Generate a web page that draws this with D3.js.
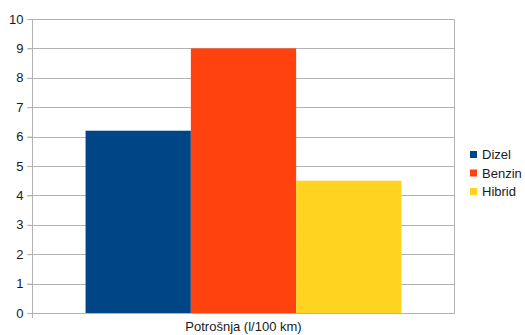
<!DOCTYPE html>
<html>
<head>
<meta charset="utf-8">
<script src="https://cdn.jsdelivr.net/npm/d3@7"></script>
<style>
  html, body { margin: 0; padding: 0; background: #fff; }
  svg { display: block; font-family: "Liberation Sans", Arial, sans-serif; }
</style>
</head>
<body>
<svg id="chart" width="525" height="335"></svg>
<script>
// Fuel consumption by engine type
const category = "Potrošnja (l/100 km)";
const seriesNames = ["Dizel", "Benzin", "Hibrid"];
const seriesValues = [6.2, 9.0, 4.5];
const seriesColors = ["#004586", "#ff420e", "#ffd320"];
const yTicks = [0, 1, 2, 3, 4, 5, 6, 7, 8, 9, 10];

const svg = d3.select("#chart");
const plot = { left: 32.5, right: 454.5, top: 19, bottom: 313 };

const y = d3.scaleLinear().domain([0, 10]).range([plot.bottom, plot.top]);
const x0 = d3.scaleBand().domain([category]).range([plot.left, plot.right]).paddingInner(0).paddingOuter(0.168);
const x1 = d3.scaleBand().domain(seriesNames).range([0, x0.bandwidth()]).padding(0);

// gridlines
svg.append("g")
  .selectAll("line")
  .data(yTicks)
  .join("line")
  .attr("x1", plot.left - 5)
  .attr("x2", plot.right)
  .attr("y1", d => Math.round(y(d)) + 0.5)
  .attr("y2", d => Math.round(y(d)) + 0.5)
  .attr("stroke", "#b3b3b3")
  .attr("stroke-width", 1);

// right border of plot area
svg.append("line")
  .attr("x1", plot.right).attr("x2", plot.right)
  .attr("y1", Math.round(y(10)) + 0.5).attr("y2", plot.bottom)
  .attr("stroke", "#b3b3b3");

// bars
const group = svg.append("g").attr("transform", `translate(${x0(category)},0)`);
group.selectAll("rect")
  .data(seriesValues)
  .join("rect")
  .attr("x", (d, i) => x1(seriesNames[i]))
  .attr("width", x1.bandwidth())
  .attr("y", d => y(d))
  .attr("height", d => plot.bottom - y(d))
  .attr("fill", (d, i) => seriesColors[i]);

// y axis
const yAxis = d3.axisLeft(y).tickValues(yTicks).tickSize(5).tickPadding(4);
const gy = svg.append("g")
  .attr("transform", `translate(${plot.left},0)`)
  .call(yAxis);
gy.select(".domain").attr("stroke", "#b3b3b3").attr("d", `M0,${plot.top}V${plot.bottom + 5}`);
gy.selectAll(".tick line").attr("stroke", "#b3b3b3");
gy.selectAll(".tick text")
  .attr("fill", "#1a1a1a")
  .attr("font-size", 13)
  .attr("font-family", "Liberation Sans, Arial, sans-serif");

// baseline
svg.append("line")
  .attr("x1", plot.left).attr("x2", plot.right)
  .attr("y1", plot.bottom + 0.5).attr("y2", plot.bottom + 0.5)
  .attr("stroke", "#b3b3b3");

// category label
svg.append("text")
  .attr("x", x0(category) + x0.bandwidth() / 2)
  .attr("y", 331)
  .attr("text-anchor", "middle")
  .attr("font-size", 13)
  .attr("fill", "#1a1a1a")
  .text(category);

// legend
const legend = svg.append("g").attr("transform", "translate(470,150)");
const rows = legend.selectAll("g")
  .data(seriesNames)
  .join("g")
  .attr("transform", (d, i) => `translate(0,${i * 18.5})`);
rows.append("rect")
  .attr("width", 7).attr("height", 7)
  .attr("y", 1)
  .attr("fill", (d, i) => seriesColors[i]);
rows.append("text")
  .attr("x", 12)
  .attr("y", 9)
  .attr("font-size", 13)
  .attr("fill", "#1a1a1a")
  .text(d => d);
</script>
</body>
</html>
